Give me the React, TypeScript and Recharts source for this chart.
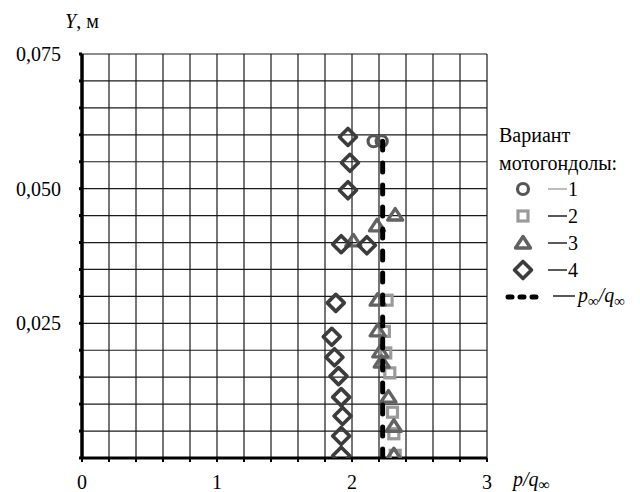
import React from 'react';
import { ScatterChart, Scatter, XAxis, YAxis, CartesianGrid, Label } from 'recharts';

const xTicks = [0, 0.2, 0.4, 0.6, 0.8, 1, 1.2, 1.4, 1.6, 1.8, 2, 2.2, 2.4, 2.6, 2.8, 3];
const yTicks = [0, 0.005, 0.01, 0.015, 0.02, 0.025, 0.03, 0.035, 0.04, 0.045, 0.05, 0.055, 0.06, 0.065, 0.07, 0.075];
const xLabelValues = [0, 1, 2, 3];
const yLabelValues = [0.025, 0.05, 0.075];

const series1 = [
  { x: 2.16, y: 0.0588 },
  { x: 2.22, y: 0.0588 },
];
const series2 = [
  { x: 2.26, y: 0.0293 },
  { x: 2.24, y: 0.0235 },
  { x: 2.25, y: 0.0195 },
  { x: 2.28, y: 0.0158 },
  { x: 2.3, y: 0.0085 },
  { x: 2.31, y: 0.0045 },
  { x: 2.32, y: 0.0005 },
];
const series3 = [
  { x: 2.32, y: 0.0451 },
  { x: 2.185, y: 0.0431 },
  { x: 2.01, y: 0.0403 },
  { x: 2.19, y: 0.0293 },
  { x: 2.19, y: 0.0236 },
  { x: 2.21, y: 0.0197 },
  { x: 2.22, y: 0.0178 },
  { x: 2.27, y: 0.0113 },
  { x: 2.31, y: 0.0059 },
  { x: 2.31, y: 0.0006 },
];
const series4 = [
  { x: 1.97, y: 0.0596 },
  { x: 1.985, y: 0.0548 },
  { x: 1.97, y: 0.0497 },
  { x: 1.92, y: 0.0397 },
  { x: 2.11, y: 0.0395 },
  { x: 1.88, y: 0.0288 },
  { x: 1.85, y: 0.0225 },
  { x: 1.87, y: 0.0187 },
  { x: 1.9, y: 0.0152 },
  { x: 1.92, y: 0.0113 },
  { x: 1.93, y: 0.0078 },
  { x: 1.92, y: 0.0041 },
  { x: 1.92, y: 0.0004 },
];
const pInf = [
  { x: 2.227, y: 0 },
  { x: 2.227, y: 0.0588 },
];

const legendNames = ['1', '2', '3', '4'];
const legendTitle = ['Вариант', 'мотогондолы:'];

const FONT = 'Liberation Serif, DejaVu Serif, Noto Serif, Times New Roman, serif';
const C1 = '#555555';
const C2 = '#9a9a9a';
const C3 = '#626262';
const C4 = '#3c3c3c';

const txt = (extra: any = {}) => ({ fontFamily: FONT, fontSize: 20, ...extra });

const CircleShape = (p: any) => (
  <circle cx={p.cx} cy={p.cy} r={5.5} fill="none" stroke={C1} strokeWidth={3.2} />
);
const SquareShape = (p: any) => (
  <rect x={p.cx - 5} y={p.cy - 5} width={10} height={10} fill="none" stroke={C2} strokeWidth={3.2} />
);
const TriangleShape = (p: any) => (
  <polygon
    points={`${p.cx},${p.cy - 6.5} ${p.cx + 7.5},${p.cy + 5} ${p.cx - 7.5},${p.cy + 5}`}
    fill="none"
    stroke={C3}
    strokeWidth={3.4}
    strokeLinejoin="round"
  />
);
const DiamondShape = (p: any) => (
  <polygon
    points={`${p.cx},${p.cy - 8.5} ${p.cx + 8.5},${p.cy} ${p.cx},${p.cy + 8.5} ${p.cx - 8.5},${p.cy}`}
    fill="none"
    stroke={C4}
    strokeWidth={3.6}
    strokeLinejoin="round"
  />
);
const NoShape = () => null;

const shapes = [CircleShape, SquareShape, TriangleShape, DiamondShape];
const dashColors = ['#999999', '#000000', '#000000', '#000000'];

const near = (v: number, arr: number[]) => arr.some((a) => Math.abs(a - v) < 1e-7);

const XTick = (props: any) => {
  const { x, y, payload } = props;
  if (!near(payload.value, xLabelValues)) return null;
  return (
    <text x={x} y={y} dy="0.71em" textAnchor="middle" fill="#000" style={txt()}>
      {String(Math.round(payload.value))}
    </text>
  );
};
const YTick = (props: any) => {
  const { x, y, payload } = props;
  if (!near(payload.value, yLabelValues)) return null;
  return (
    <text x={x} y={y} dy="0.35em" textAnchor="end" fill="#000" style={txt()}>
      {payload.value.toFixed(3).replace('.', ',')}
    </text>
  );
};

const YTitle = () => (
  <text x={65} y={28} fill="#000" style={txt()}>
    <tspan style={{ fontStyle: 'italic' }}>Y</tspan>
    <tspan>, м</tspan>
  </text>
);
const XTitle = () => (
  <text x={513} y={486} fill="#000" style={txt({ fontStyle: 'italic' })}>
    <tspan>p/q</tspan>
    <tspan dy={4} style={{ fontSize: 16, fontStyle: 'normal' }}>∞</tspan>
  </text>
);

const LegendOverlay = () => {
  const rowY = [189, 216, 243, 270];
  return (
    <svg width={640} height={492} style={{ position: 'absolute', left: 0, top: 0, pointerEvents: 'none' }}>
      <text x={499} y={142} fill="#000" style={txt()}>{legendTitle[0]}</text>
      <text x={499} y={170} fill="#000" style={txt()}>{legendTitle[1]}</text>
      {legendNames.map((name, i) => {
        const S = shapes[i];
        return (
          <g key={name}>
            <S cx={523} cy={rowY[i]} />
            <line x1={548} x2={567} y1={rowY[i]} y2={rowY[i]} stroke={dashColors[i]} strokeWidth={1.3} />
            <text x={568} y={rowY[i] + 7} fill="#000" style={txt()}>{name}</text>
          </g>
        );
      })}
      <line x1={508} x2={536} y1={297} y2={297} stroke="#000" strokeWidth={5} strokeDasharray="4 8" strokeLinecap="round" />
      <line x1={553} x2={575} y1={296} y2={296} stroke="#000" strokeWidth={1.3} />
      <text x={578} y={302} fill="#000" style={txt({ fontStyle: 'italic' })}>
        <tspan>p</tspan>
        <tspan dy={4} style={{ fontSize: 15, fontStyle: 'normal' }}>∞</tspan>
        <tspan dy={-4}>/q</tspan>
        <tspan dy={4} style={{ fontSize: 15, fontStyle: 'normal' }}>∞</tspan>
      </text>
    </svg>
  );
};

export default function App() {
  return (
    <div style={{ position: 'absolute', left: 0, top: 0, width: 640, height: 492, background: '#fff' }}>
      <ScatterChart width={640} height={492} margin={{ top: 54, right: 153, bottom: 0, left: 0 }}>
        <CartesianGrid stroke="#1a1a1a" strokeWidth={1.2} horizontalValues={yTicks} verticalValues={xTicks} />
        <XAxis
          type="number"
          dataKey="x"
          domain={[0, 3]}
          ticks={xTicks}
          interval={0}
          height={34}
          tick={<XTick />}
          tickSize={4}
          tickMargin={13}
          axisLine={{ stroke: '#000', strokeWidth: 3 }}
          tickLine={{ stroke: '#000', strokeWidth: 2 }}
          allowDataOverflow
        >
          <Label content={<XTitle />} />
        </XAxis>
        <YAxis
          type="number"
          dataKey="y"
          domain={[0, 0.075]}
          ticks={yTicks}
          interval={0}
          width={82}
          tick={<YTick />}
          tickSize={3}
          tickMargin={18}
          axisLine={{ stroke: '#000', strokeWidth: 3.5 }}
          tickLine={{ stroke: '#000', strokeWidth: 3 }}
          allowDataOverflow
        >
          <Label content={<YTitle />} />
        </YAxis>
        <Scatter data={series2} shape={<SquareShape />} isAnimationActive={false} />
        <Scatter data={series3} shape={<TriangleShape />} isAnimationActive={false} />
        <Scatter data={series1} shape={<CircleShape />} isAnimationActive={false} />
        <Scatter data={series4} shape={<DiamondShape />} isAnimationActive={false} />
        <Scatter
          data={pInf}
          shape={<NoShape />}
          line={{ stroke: '#000', strokeWidth: 5, strokeDasharray: '9 13', strokeLinecap: 'round' }}
          isAnimationActive={false}
        />
      </ScatterChart>
      <LegendOverlay />
    </div>
  );
}
